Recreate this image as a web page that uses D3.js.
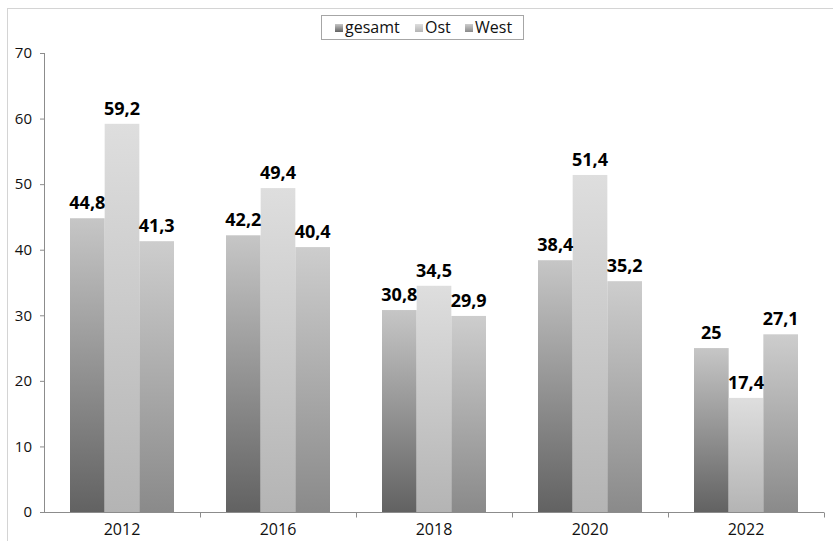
<!DOCTYPE html>
<html>
<head>
<meta charset="utf-8">
<script src="https://cdn.jsdelivr.net/npm/d3@7/dist/d3.min.js"></script>
<style>
  html, body { margin: 0; padding: 0; background: #fff; }
  svg { display: block; font-family: "Open Sans", "Noto Sans", sans-serif; }
</style>
</head>
<body>
<svg id="chart" width="833" height="541"></svg>
<script>
// Survey results per year, split into total, East and West
const years = ["2012", "2016", "2018", "2020", "2022"];
const seriesNames = ["gesamt", "Ost", "West"];
const gesamt = [44.8, 42.2, 30.8, 38.4, 25];
const ost = [59.2, 49.4, 34.5, 51.4, 17.4];
const west = [41.3, 40.4, 29.9, 35.2, 27.1];
const yTicks = [0, 10, 20, 30, 40, 50, 60, 70];

const seriesValues = { gesamt: gesamt, Ost: ost, West: west };
const gradientStops = {
  gesamt: ["#c6c6c6", "#626262"],
  Ost: ["#dedede", "#b4b4b4"],
  West: ["#cdcdcd", "#8a8a8a"]
};

const svg = d3.select("#chart");
const fmt = v => String(v).replace(".", ",");

// outer frame of the chart area
svg.append("rect")
  .attr("x", 7.5).attr("y", 8.5)
  .attr("width", 900).attr("height", 600)
  .attr("fill", "none").attr("stroke", "#d4d4d4");

const defs = svg.append("defs");
seriesNames.forEach(s => {
  const g = defs.append("linearGradient")
    .attr("id", "grad-" + s)
    .attr("x1", 0).attr("y1", 0).attr("x2", 0).attr("y2", 1);
  g.append("stop").attr("offset", "0%").attr("stop-color", gradientStops[s][0]);
  g.append("stop").attr("offset", "100%").attr("stop-color", gradientStops[s][1]);
});

const x0 = d3.scaleBand().domain(years).range([44, 824]).padding(0);
const x1 = d3.scaleBand().domain(seriesNames).range([0, x0.bandwidth()])
  .paddingInner(0).paddingOuter(0.75);
const y = d3.scaleLinear().domain([0, 70]).range([512, 53]);

// y axis
const yAxis = svg.append("g")
  .attr("transform", "translate(44,0)")
  .call(d3.axisLeft(y).tickValues(yTicks).tickSize(4).tickPadding(8).tickFormat(d => d));
yAxis.select(".domain").attr("stroke", "#8c8c8c").attr("d", "M0.5," + y(70) + "V" + y(0));
yAxis.selectAll(".tick line").attr("stroke", "#8c8c8c");
yAxis.selectAll(".tick text").attr("font-size", 15).attr("fill", "#111")
  .attr("font-family", "'Open Sans', sans-serif");

// bars
const groups = svg.append("g").selectAll("g")
  .data(years)
  .join("g")
  .attr("transform", d => "translate(" + x0(d) + ",0)");

groups.selectAll("rect")
  .data((d, i) => seriesNames.map(s => ({ s, v: seriesValues[s][i] })))
  .join("rect")
  .attr("x", d => x1(d.s))
  .attr("y", d => y(d.v))
  .attr("width", x1.bandwidth())
  .attr("height", d => y(0) - y(d.v))
  .attr("fill", d => "url(#grad-" + d.s + ")");

groups.selectAll("text")
  .data((d, i) => seriesNames.map(s => ({ s, v: seriesValues[s][i] })))
  .join("text")
  .attr("x", d => x1(d.s) + x1.bandwidth() / 2)
  .attr("y", d => y(d.v) - 9)
  .attr("text-anchor", "middle")
  .attr("font-size", 18)
  .attr("font-weight", "bold")
  .attr("fill", "#000")
  .text(d => fmt(d.v));

// x axis with ticks at category boundaries
const xAxis = svg.append("g").attr("transform", "translate(0,512.5)");
xAxis.append("path").attr("d", "M44,0H824").attr("stroke", "#8c8c8c").attr("fill", "none");
const bounds = years.map(d => x0(d) + x0.bandwidth());
xAxis.selectAll("line.tk")
  .data(bounds)
  .join("line")
  .attr("class", "tk")
  .attr("x1", d => Math.round(d) + 0.5).attr("x2", d => Math.round(d) + 0.5)
  .attr("y1", 0).attr("y2", 5)
  .attr("stroke", "#8c8c8c");
xAxis.selectAll("text")
  .data(years)
  .join("text")
  .attr("x", d => x0(d) + x0.bandwidth() / 2)
  .attr("y", 22.5)
  .attr("text-anchor", "middle")
  .attr("font-size", 16)
  .attr("fill", "#111")
  .text(d => d);

// legend
const legend = svg.append("g");
legend.append("rect")
  .attr("x", 321.5).attr("y", 15.5).attr("width", 202).attr("height", 24)
  .attr("fill", "#fff").attr("stroke", "#a6a6a6");
const legendX = { gesamt: 335, Ost: 415, West: 465 };
seriesNames.forEach(s => {
  legend.append("rect")
    .attr("x", legendX[s]).attr("y", 24)
    .attr("width", 8).attr("height", 8)
    .attr("fill", "url(#grad-" + s + ")");
  legend.append("text")
    .attr("x", legendX[s] + 10).attr("y", 33)
    .attr("font-size", 16).attr("fill", "#111")
    .text(s);
});
</script>
</body>
</html>
